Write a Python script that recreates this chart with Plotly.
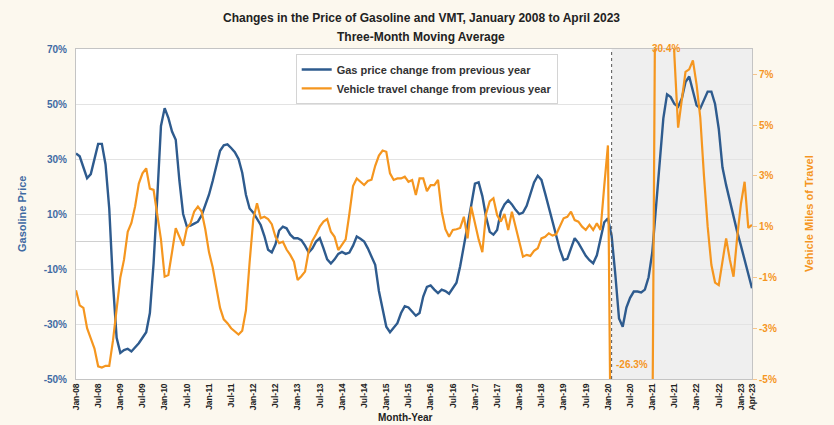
import pandas as pd
import plotly.graph_objects as go

# ---------------- data ----------------
months = [d.strftime("%b-%y") for d in pd.date_range("2008-01-01", "2023-04-01", freq="MS")]

gas_change = [
    32, 31, 27, 23, 24.5, 30, 35.5, 35.5, 28, 12,
    -15, -35, -40.5, -39.5, -39, -40, -38.5, -37, -35, -33,
    -26, -8, 16, 42, 48.5, 45, 40, 37, 22, 10,
    5.5, 5.8, 6.5, 7.2, 9.5, 13, 17, 22, 27, 33,
    35, 35.3, 34, 32.5, 30, 25, 17, 12, 10.5, 8,
    6, 2, -3, -4, -1, 4, 5.4, 4.8, 2.5, 1.2,
    1.2, 0.5, -1.5, -4, -2.5, 0, 1.2, -2.5, -6.5, -8,
    -6.5, -4.5, -3.8, -4.5, -4, -1.5, 1.8, 1, 0, -2.5,
    -5.5, -8.5, -18, -25, -31, -33, -31.5, -29.7, -26, -23.5,
    -24, -25.5, -27, -26, -20, -16.5, -16, -17.5, -18.8, -17.5,
    -18, -19, -17, -15, -9, -2, 5, 13.3, 21, 21.5,
    16.5, 9, 3.5, 2.5, 4.2, 10.8, 13.5, 15, 13.5, 11.5,
    10, 10.5, 13, 17, 21.5, 23.9, 22.4, 17.5, 12.5, 6.5,
    2.3, -3, -6.7, -6.3, -2.5, 1.2, -0.5, -3, -5.2, -6.8,
    -7.9, -5, 1.5, 7, 8.4, 2, -12, -28, -31, -24,
    -20.5, -18.2, -18.2, -18.5, -17.5, -13, -4, 12, 30, 44.8,
    53.5, 52.5, 50, 49, 52, 58, 60, 55, 49.5, 48.4,
    51.5, 54.5, 54.5, 50, 41, 27, 20.5, 14.5, 8.4, 3.5,
    -1.5, -7, -12.5, -17,
]

vmt_change = [
    -1.5, -2.1, -2.2, -3.0, -3.4, -3.8, -4.5, -4.55, -4.48, -4.48,
    -3.5, -2.35, -1.0, -0.3, 0.8, 1.15, 1.8, 2.7, 3.1, 3.3,
    2.5, 2.45, 1.5, 0.5, -0.97, -0.9, 0.0, 0.94, 0.6, 0.25,
    0.94, 1.13, 1.6, 1.79, 1.6, 0.9, 0.0, -0.6, -1.4, -2.2,
    -2.65, -2.8, -3.0, -3.14, -3.25, -3.1, -2.3, -0.4, 1.3, 1.92,
    1.33, 1.39, 1.3, 1.1, 0.6, 0.35, 0.41, 0.1, -0.11, -0.38,
    -1.1, -0.95, -0.77, 0.05, 0.45, 0.7, 1.0, 1.2, 1.3, 0.8,
    0.6, 0.08, 0.28, 0.5, 1.5, 2.6, 2.9, 2.75, 2.64, 2.8,
    2.85, 3.4, 3.8, 4.0, 3.95, 3.1, 2.84, 2.9, 2.9, 2.97,
    2.77, 2.84, 2.25, 2.9, 2.9, 2.4, 2.64, 2.64, 2.84, 1.6,
    0.9, 0.6, 0.87, 0.9, 0.95, 1.39, 0.54, 1.79, 1.1, 0.5,
    0.0, 1.5, 2.0, 2.12, 1.46, 1.2, 1.5, 0.87, 1.59, 1.0,
    0.3, -0.18, -0.11, -0.15, 0.05, 0.15, 0.54, 0.6, 0.74, 0.65,
    0.7, 1.0, 1.33, 1.39, 1.59, 1.26, 1.2, 1.0, 0.87, 1.07,
    0.87, 1.13, 0.87, 2.6, 4.2, -12, -20, -26.3, -22, -15,
    -11, -10, -10, -10.5, -11, -10, -8, 15, 25, 30.4,
    24, 12, 7.7, 4.9, 6.0, 7.1, 7.2, 7.55, 6.6, 5.3,
    3.0, 1.0, -0.5, -1.2, -1.3, -0.3, 0.54, -0.3, -0.97, 0.6,
    1.9, 2.77, 0.95, 1.07,
]

tick_labels = [
    "Jan-08", "Jul-08", "Jan-09", "Jul-09", "Jan-10", "Jul-10", "Jan-11", "Jul-11",
    "Jan-12", "Jul-12", "Jan-13", "Jul-13", "Jan-14", "Jul-14", "Jan-15", "Jul-15",
    "Jan-16", "Jul-16", "Jan-17", "Jul-17", "Jan-18", "Jul-18", "Jan-19", "Jul-19",
    "Jan-20", "Jul-20", "Jan-21", "Jul-21", "Jan-22", "Jul-22", "Jan-23", "Apr-23",
]

gas_ticks = [-50, -30, -10, 10, 30, 50, 70]
vmt_ticks = [-5, -3, -1, 1, 3, 5, 7]

covid_start = "Feb-20"
vmt_low_label = "-26.3%"
vmt_high_label = "30.4%"

# ---------------- style ----------------
BLUE = "#2e5b8e"
BLUE_TXT = "#3f6aa3"
ORANGE = "#f5961f"
FONT = "Liberation Sans, Arial, sans-serif"
BG = "#fcf8ee"

fig = go.Figure()
fig.add_trace(go.Scatter(
    x=months, y=gas_change, mode="lines",
    name="<b>Gas price change from previous year</b>",
    line=dict(color=BLUE, width=2.4), yaxis="y",
))
fig.add_trace(go.Scatter(
    x=months, y=vmt_change, mode="lines",
    name="<b>Vehicle travel change from previous year</b>",
    line=dict(color=ORANGE, width=2.2), yaxis="y2",
))

cs = months.index(covid_start)
n_last = len(months) - 1

fig.add_shape(type="rect", xref="x", yref="paper", x0=cs, x1=n_last, y0=0, y1=1,
              fillcolor="#efefef", line=dict(width=0), layer="below")
fig.add_shape(type="line", xref="x", yref="paper", x0=cs, x1=cs, y0=0, y1=1,
              line=dict(color="#555555", width=1, dash="dot"))

fig.update_layout(
    width=834, height=425,
    paper_bgcolor=BG, plot_bgcolor="white",
    margin=dict(l=76, r=82, t=49, b=46, autoexpand=False),
    font=dict(family=FONT, size=10, color="#222"),
    showlegend=True,
    legend=dict(
        x=0.325, y=0.985, xanchor="left", yanchor="top",
        bgcolor="white", bordercolor="#d4d4d4", borderwidth=1,
        font=dict(family=FONT, size=11, color="#333"),
        tracegroupgap=2, itemwidth=30,
    ),
    xaxis=dict(
        type="category", categoryorder="array", categoryarray=months,
        range=[0, n_last], tickvals=tick_labels, ticktext=[f"<b>{t}</b>" for t in tick_labels],
        tickangle=-90, tickfont=dict(size=8.5, color="#222"),
        showgrid=False, showline=True, linecolor="#c4c4c4", mirror=True,
        ticks="", zeroline=False, automargin=False,
    ),
    yaxis=dict(
        range=[-50, 70], tickvals=gas_ticks, ticktext=[f"<b>{v}%</b>" for v in gas_ticks],
        tickfont=dict(size=10, color=BLUE_TXT), showgrid=True, gridcolor="#e3e3e3",
        zeroline=True, zerolinecolor="#d0d0d0", zerolinewidth=1,
        showline=True, linecolor="#c4c4c4", ticks="outside", ticklen=6, tickcolor="rgba(0,0,0,0)",
        automargin=False,
    ),
    yaxis2=dict(
        range=[-5, 8], overlaying="y", side="right",
        tickvals=vmt_ticks, ticktext=[f"<b>{v}%</b>" for v in vmt_ticks],
        tickfont=dict(size=10, color=ORANGE), showgrid=False, zeroline=False,
        showline=True, linecolor="#c4c4c4", ticks="outside", ticklen=4, tickcolor="#f7c58a",
        automargin=False,
    ),
)

ann = [
    dict(text="<b>Changes in the Price of Gasoline and VMT, January 2008 to April 2023</b>",
         x=(421 - 76) / 676, y=(379 - 18) / 330, font=dict(size=12, color="#222")),
    dict(text="<b>Three-Month Moving Average</b>",
         x=(421 - 76) / 676, y=(379 - 37) / 330, font=dict(size=12, color="#222")),
    dict(text="<b>Gasoline Price</b>", x=(22 - 76) / 676, y=0.5, textangle=-90,
         font=dict(size=11, color=BLUE_TXT)),
    dict(text="<b>Vehicle Miles of Travel</b>", x=(809 - 76) / 676, y=0.5, textangle=-90,
         font=dict(size=11, color=ORANGE)),
    dict(text="<b>Month-Year</b>", x=(405 - 76) / 676, y=(379 - 417) / 330,
         font=dict(size=10, color="#222")),
]
for a in ann:
    fig.add_annotation(xref="paper", yref="paper", showarrow=False,
                       xanchor="center", yanchor="middle", **a)

fig.add_annotation(xref="x", yref="paper", x=months.index("May-21") - 0.2, y=(379 - 41) / 330,
                   text=f"<b>{vmt_high_label}</b>", showarrow=False,
                   font=dict(size=10, color=ORANGE))
fig.add_annotation(xref="x", yref="paper", x=months.index("Jul-20") + 0.5, y=(379 - 372) / 330,
                   text=f"<b>{vmt_low_label}</b>", showarrow=False,
                   font=dict(size=10, color=ORANGE))

fig.write_html("out.html", config={"displayModeBar": False},
               post_script="document.body.style.margin='0';")
